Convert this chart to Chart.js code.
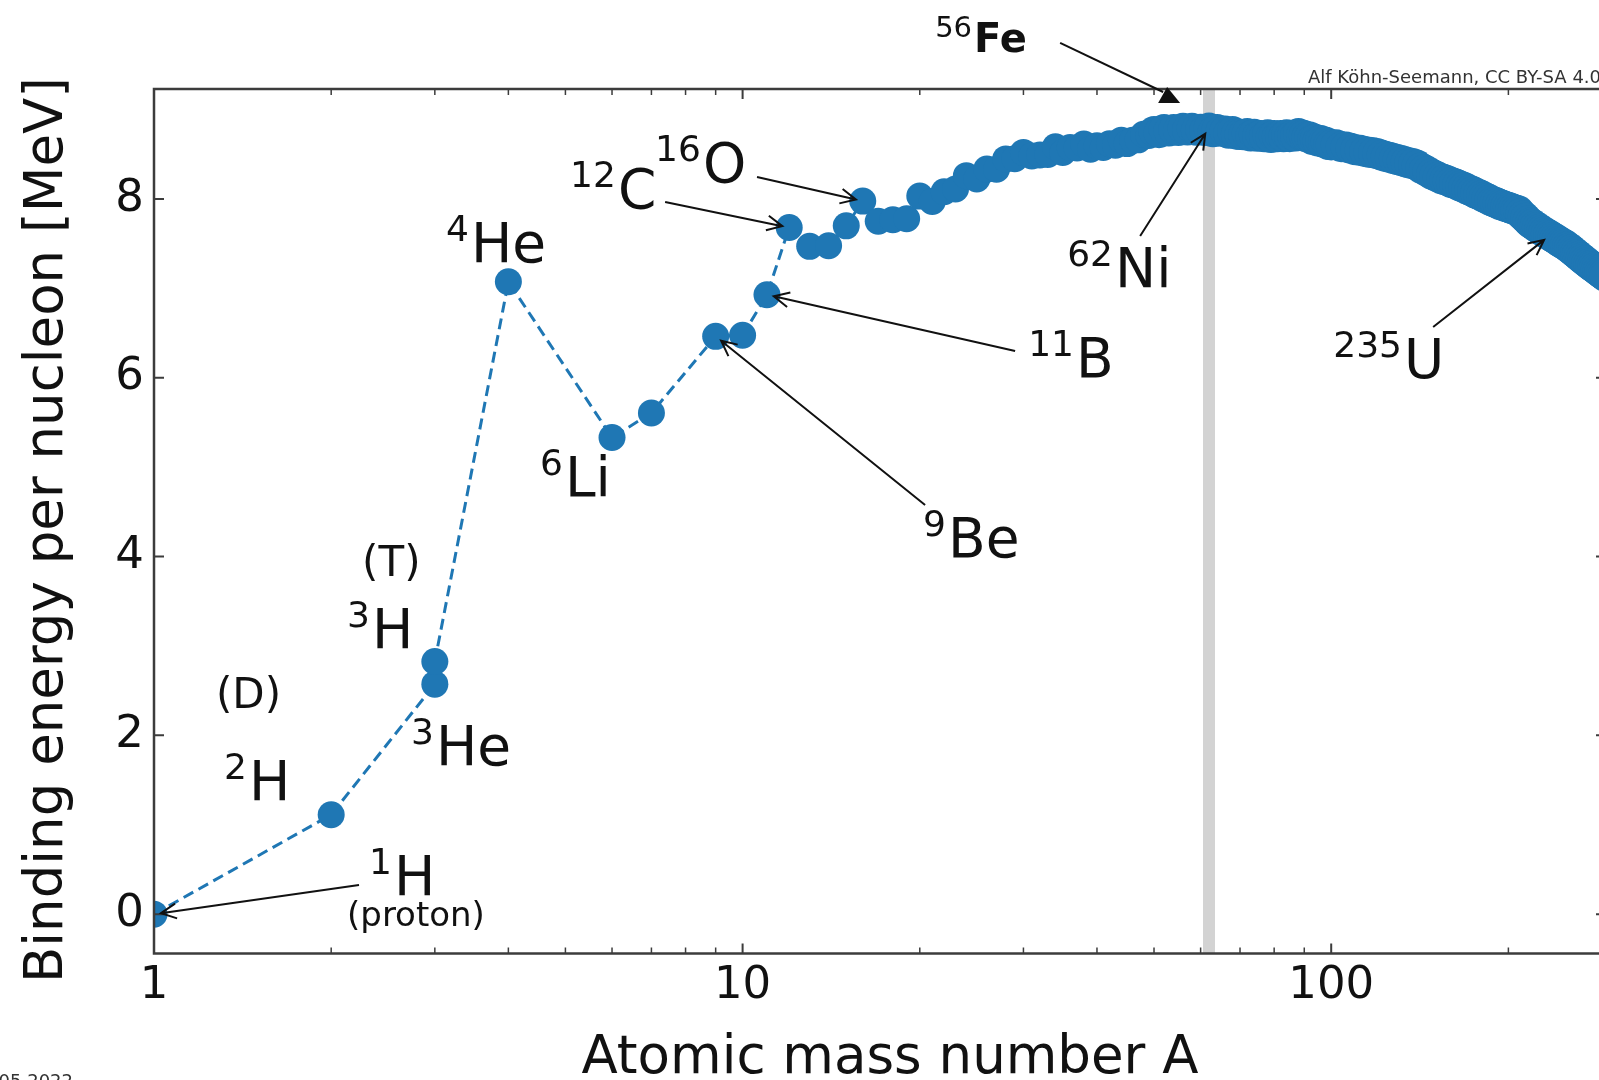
<!DOCTYPE html>
<html>
<head>
<meta charset="utf-8">
<script src="https://cdn.jsdelivr.net/npm/chart.js@4.4.1/dist/chart.umd.min.js"></script>
<style>
  html, body { margin: 0; padding: 0; background: #fff; overflow: hidden; width: 1599px; height: 1080px; }
  canvas { display: block; }
</style>
</head>
<body>
<canvas id="bindingChart" width="1640" height="1080"></canvas>
<script>
// binding energy per nucleon [MeV], light nuclei one by one
var lightMass   = [1, 2, 3, 3, 4, 6, 7, 9, 10, 11];
var lightEnergy = [0, 1.112, 2.573, 2.827, 7.074, 5.332, 5.606, 6.463, 6.475, 6.928];

// A = 12 ... 100
var midMass = [12, 13, 14, 15, 16, 17, 18, 19, 20, 21, 22, 23, 24, 25, 26, 27, 28, 29, 30,
    31, 32, 33, 34, 35, 36, 37, 38, 39, 40, 41, 42, 43, 44, 45, 46, 47, 48, 49, 50,
    51, 52, 53, 54, 55, 56, 57, 58, 59, 60, 61, 62, 63, 64, 65, 66, 67, 68, 69, 70,
    71, 72, 73, 74, 75, 76, 77, 78, 79, 80, 81, 82, 83, 84, 85, 86, 87, 88, 89, 90,
    91, 92, 93, 94, 95, 96, 97, 98, 99, 100];
var midEnergy = [7.680, 7.470, 7.476, 7.699, 7.976, 7.751, 7.767, 7.779, 8.032, 7.972,
    8.080, 8.112, 8.261, 8.224, 8.334, 8.332, 8.448, 8.449, 8.521,
    8.481, 8.493, 8.498, 8.584, 8.520, 8.575, 8.570, 8.614, 8.557, 8.595,
    8.576, 8.617, 8.601, 8.658, 8.619, 8.656, 8.661, 8.723, 8.711, 8.756,
    8.742, 8.776, 8.760, 8.778, 8.765, 8.790, 8.770, 8.792, 8.768, 8.781,
    8.765, 8.795, 8.752, 8.777, 8.757, 8.760, 8.734, 8.756, 8.725, 8.722,
    8.718, 8.732, 8.705, 8.725, 8.701, 8.711, 8.695, 8.718, 8.688, 8.711,
    8.696, 8.711, 8.696, 8.717, 8.697, 8.712, 8.705, 8.733, 8.714, 8.710,
    8.693, 8.693, 8.664, 8.667, 8.649, 8.654, 8.635, 8.635, 8.608, 8.605];

// A = 102 ... 292, every second one
var heavyMass = [102, 104, 106, 108, 110, 112, 114, 116, 118, 120, 122, 124, 126, 128, 130,
    132, 134, 136, 138, 140, 142, 144, 146, 148, 150, 152, 154, 156, 158, 160,
    162, 164, 166, 168, 170, 172, 174, 176, 178, 180, 182, 184, 186, 188, 190,
    192, 194, 196, 198, 200, 202, 204, 206, 208, 210, 212, 214, 216, 218, 220,
    222, 224, 226, 228, 230, 232, 234, 236, 238, 240, 242, 244, 246, 248, 250,
    252, 254, 256, 258, 260, 262, 264, 266, 268, 270, 272, 274, 276, 278, 280,
    282, 284, 286, 288, 290, 292];
var heavyEnergy = [8.607, 8.585, 8.580, 8.567, 8.551, 8.545, 8.532, 8.523, 8.517, 8.505,
    8.488, 8.474, 8.463, 8.449, 8.438, 8.428, 8.414, 8.403, 8.394, 8.376,
    8.347, 8.327, 8.304, 8.279, 8.262, 8.244, 8.227, 8.215, 8.202, 8.184,
    8.174, 8.159, 8.142, 8.130, 8.112, 8.097, 8.084, 8.064, 8.052, 8.035,
    8.018, 8.005, 7.989, 7.973, 7.963, 7.949, 7.936, 7.927, 7.914, 7.906,
    7.897, 7.886, 7.875, 7.868, 7.834, 7.810, 7.785, 7.755, 7.730, 7.717,
    7.695, 7.680, 7.662, 7.645, 7.631, 7.615, 7.601, 7.586, 7.570, 7.556,
    7.541, 7.525, 7.511, 7.497, 7.484, 7.465, 7.449, 7.431, 7.413, 7.394,
    7.376, 7.358, 7.340, 7.322, 7.305, 7.288, 7.272, 7.256, 7.241, 7.226,
    7.211, 7.196, 7.181, 7.166, 7.151, 7.136];

var xMajorTicks = [1, 10, 100];
var xMinorTicks = [2, 3, 4, 5, 6, 7, 8, 9, 20, 30, 40, 50, 60, 70, 80, 90, 200];
var yTicks = [0, 2, 4, 6, 8];

var massNumbers = lightMass.concat(midMass, heavyMass);
var bindingEnergies = lightEnergy.concat(midEnergy, heavyEnergy);

var BLUE = '#1f77b4';
var INK = '#111111';

// labels: sup + text, left/baseline given in data coordinates
var isotopeLabels = [
    {sup: '1',   text: 'H',  at: [2.319, 0.215]},
    {sup: '2',   text: 'H',  at: [1.315, 1.277]},
    {sup: '3',   text: 'H',  at: [2.128, 2.978]},
    {sup: '3',   text: 'He', at: [2.733, 1.669]},
    {sup: '4',   text: 'He', at: [3.134, 7.295]},
    {sup: '6',   text: 'Li', at: [4.528, 4.678]},
    {sup: '9',   text: 'Be', at: [20.26, 3.996]},
    {sup: '11',  text: 'B',  at: [30.56, 6.009]},
    {sup: '12',  text: 'C',  at: [5.092, 7.899]},
    {sup: '16',  text: 'O',  at: [7.101, 8.190]},
    {sup: '62',  text: 'Ni', at: [35.6, 7.016]},
    {sup: '235', text: 'U',  at: [100.8, 5.998]}
];
var plainLabels = [
    {text: '(proton)', at: [2.128, -0.132], size: 34},
    {text: '(D)', at: [1.274, 2.307], size: 42},
    {text: '(T)', at: [2.257, 3.783], size: 42}
];
var arrows = [
    {from: [2.230, 0.327], to: [1, 0]},
    {from: [20.42, 4.577], to: [9, 6.463]},
    {from: [29.04, 6.300], to: [11, 6.928]},
    {from: [7.385, 7.966], to: [12, 7.680]},
    {from: [10.58, 8.246], to: [16, 7.976]},
    {from: [47.36, 7.586], to: [62, 8.795]},
    {from: [149.0, 6.568], to: [235, 7.591]}
];
var ironLabel = {sup: '56', text: 'Fe', at: [21.24, 9.644], from: [34.63, 9.745], marker: [53.05, 9.152]};

Chart.defaults.font.family = "'DejaVu Sans', sans-serif";
Chart.defaults.color = INK;

function drawIsotope(ctx, sup, text, x, y, bold) {
    ctx.textAlign = 'left';
    ctx.textBaseline = 'alphabetic';
    ctx.font = (bold ? '29px' : '36px') + ' "DejaVu Sans"';
    ctx.fillText(sup, x, y - (bold ? 15 : 21));
    var w = ctx.measureText(sup).width;
    ctx.font = (bold ? 'bold 40px' : '55px') + ' "DejaVu Sans"';
    ctx.fillText(text, x + w + 2, y);
}

function drawArrow(ctx, x0, y0, x1, y1, shrink) {
    var dx = x1 - x0, dy = y1 - y0;
    var len = Math.sqrt(dx * dx + dy * dy);
    var ux = dx / len, uy = dy / len;
    var tx = x1 - ux * shrink, ty = y1 - uy * shrink;
    ctx.beginPath();
    ctx.moveTo(x0, y0);
    ctx.lineTo(tx, ty);
    var head = 17, spread = 0.45;
    var a = Math.atan2(uy, ux);
    ctx.moveTo(tx - head * Math.cos(a - spread), ty - head * Math.sin(a - spread));
    ctx.lineTo(tx, ty);
    ctx.lineTo(tx - head * Math.cos(a + spread), ty - head * Math.sin(a + spread));
    ctx.stroke();
}

var decor = {
    id: 'decor',
    beforeDatasetsDraw: function (chart) {
        var ctx = chart.ctx, area = chart.chartArea;
        var px = chart.scales.x.getPixelForValue(62);
        ctx.save();
        ctx.fillStyle = '#d3d3d3';
        ctx.fillRect(px - 6, area.top, 12, area.bottom - area.top);
        ctx.restore();
    },
    afterDatasetsDraw: function (chart) {
        var ctx = chart.ctx, area = chart.chartArea;
        var sx = chart.scales.x, sy = chart.scales.y;
        ctx.save();

        // inward ticks
        ctx.strokeStyle = '#3c3c3c';
        xMajorTicks.concat(xMinorTicks).forEach(function (v) {
            var major = xMajorTicks.indexOf(v) >= 0;
            var len = major ? 10 : 6;
            var p = sx.getPixelForValue(v);
            ctx.lineWidth = major ? 2 : 1.5;
            ctx.beginPath();
            ctx.moveTo(p, area.bottom); ctx.lineTo(p, area.bottom - len);
            ctx.moveTo(p, area.top); ctx.lineTo(p, area.top + len);
            ctx.stroke();
        });
        ctx.lineWidth = 2;
        yTicks.forEach(function (v) {
            var p = sy.getPixelForValue(v);
            ctx.beginPath();
            ctx.moveTo(area.left, p); ctx.lineTo(area.left + 10, p);
            ctx.moveTo(area.right, p); ctx.lineTo(area.right - 10, p);
            ctx.stroke();
        });

        // frame
        ctx.lineWidth = 2.5;
        ctx.strokeRect(area.left, area.top, area.right - area.left, area.bottom - area.top);

        // annotations
        ctx.fillStyle = INK;
        ctx.strokeStyle = INK;
        isotopeLabels.forEach(function (l) {
            drawIsotope(ctx, l.sup, l.text, sx.getPixelForValue(l.at[0]), sy.getPixelForValue(l.at[1]), false);
        });
        plainLabels.forEach(function (l) {
            ctx.font = l.size + 'px "DejaVu Sans"';
            ctx.textAlign = 'left';
            ctx.fillText(l.text, sx.getPixelForValue(l.at[0]), sy.getPixelForValue(l.at[1]));
        });
        ctx.lineWidth = 2;
        arrows.forEach(function (a) {
            drawArrow(ctx, sx.getPixelForValue(a.from[0]), sy.getPixelForValue(a.from[1]),
                sx.getPixelForValue(a.to[0]), sy.getPixelForValue(a.to[1]), 7);
        });

        // 56Fe with filled marker on top
        drawIsotope(ctx, ironLabel.sup, ironLabel.text,
            sx.getPixelForValue(ironLabel.at[0]), sy.getPixelForValue(ironLabel.at[1]), true);
        var mx = sx.getPixelForValue(ironLabel.marker[0]), my = sy.getPixelForValue(ironLabel.marker[1]);
        var fx = sx.getPixelForValue(ironLabel.from[0]), fy = sy.getPixelForValue(ironLabel.from[1]);
        ctx.beginPath();
        ctx.moveTo(fx, fy);
        ctx.lineTo(mx - 6, my - 4);
        ctx.stroke();
        ctx.beginPath();
        ctx.moveTo(mx - 2, my - 9);
        ctx.lineTo(mx + 11, my + 7);
        ctx.lineTo(mx - 11, my + 7);
        ctx.closePath();
        ctx.fill();

        // axis titles
        ctx.font = '53px "DejaVu Sans"';
        ctx.textAlign = 'center';
        ctx.textBaseline = 'alphabetic';
        ctx.fillText('Atomic mass number A', 890, 1073);
        ctx.save();
        ctx.translate(62, 530);
        ctx.rotate(-Math.PI / 2);
        ctx.fillText('Binding energy per nucleon [MeV]', 0, 0);
        ctx.restore();

        // credit and date
        ctx.font = '18px "DejaVu Sans"';
        ctx.fillStyle = '#333333';
        ctx.textAlign = 'left';
        ctx.fillText('Alf Köhn-Seemann, CC BY-SA 4.0', 1308, 83);
        ctx.textAlign = 'right';
        ctx.fillText('25.05.2022', 73, 1087);

        ctx.restore();
    }
};

var points = massNumbers.map(function (a, i) {
    return {x: a, y: bindingEnergies[i]};
});

// the band of heavier nuclei looks a bit thicker in the original
function markerSize(c) {
    var p = c.raw;
    return p && p.x >= 50 ? 15.5 : 13.5;
}

new Chart(document.getElementById('bindingChart'), {
    type: 'line',
    data: {
        datasets: [{
            data: points,
            borderColor: BLUE,
            backgroundColor: BLUE,
            borderWidth: 3,
            borderDash: [11, 6],
            pointRadius: markerSize,
            pointBorderWidth: 0,
            pointBackgroundColor: BLUE,
            pointHoverRadius: markerSize,
            tension: 0,
            fill: false,
            clip: 0
        }]
    },
    options: {
        responsive: false,
        animation: false,
        devicePixelRatio: 1,
        events: [],
        layout: {padding: {top: 89, right: 34, left: 0, bottom: 0}},
        plugins: {legend: {display: false}, tooltip: {enabled: false}},
        scales: {
            x: {
                type: 'logarithmic',
                min: 1,
                max: 293,
                grid: {display: false, drawTicks: false},
                border: {display: false},
                afterBuildTicks: function (s) {
                    s.ticks = xMajorTicks.concat(xMinorTicks).sort(function (a, b) { return a - b; })
                        .map(function (v) { return {value: v}; });
                },
                afterFit: function (s) { s.height = 126.5; },
                ticks: {
                    autoSkip: false,
                    maxRotation: 0,
                    padding: 6,
                    color: INK,
                    font: {size: 45},
                    callback: function (v) { return xMajorTicks.indexOf(v) >= 0 ? String(v) : ''; }
                }
            },
            y: {
                type: 'linear',
                min: -0.44,
                max: 9.23,
                grid: {display: false, drawTicks: false},
                border: {display: false},
                afterBuildTicks: function (s) {
                    s.ticks = yTicks.map(function (v) { return {value: v}; });
                },
                afterFit: function (s) { s.width = 154; },
                ticks: {
                    padding: 10,
                    color: INK,
                    font: {size: 45},
                    callback: function (v) { return String(v); }
                }
            }
        }
    },
    plugins: [decor]
});
</script>
</body>
</html>
